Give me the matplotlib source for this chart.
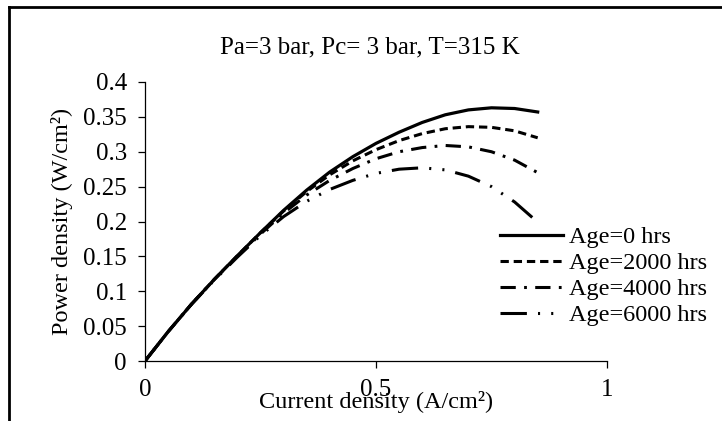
import numpy as np
import matplotlib
matplotlib.use("Agg")
import matplotlib.pyplot as plt
from matplotlib.lines import Line2D

plt.rcParams['font.family'] = ['Liberation Serif', 'DejaVu Serif']
plt.rcParams['lines.scale_dashes'] = False

# current density (A/cm2)
current = [0, 0.05, 0.1, 0.15, 0.2, 0.25, 0.3, 0.35, 0.4, 0.45,
           0.5, 0.55, 0.6, 0.65, 0.7, 0.75, 0.8, 0.85]

# power density (W/cm2) per ageing time
age_0 = [0, 0.042, 0.081, 0.117, 0.151, 0.184, 0.216, 0.245, 0.271, 0.293,
         0.312, 0.328, 0.342, 0.353, 0.360, 0.363, 0.362, 0.357]
age_2000 = [0, 0.042, 0.081, 0.117, 0.151, 0.184, 0.215, 0.243, 0.267, 0.287,
            0.303, 0.316, 0.326, 0.333, 0.336, 0.335, 0.330, 0.320]
age_4000 = [0, 0.042, 0.081, 0.117, 0.150, 0.182, 0.212, 0.238, 0.259, 0.276,
            0.290, 0.300, 0.306, 0.309, 0.307, 0.300, 0.288, 0.270]
age_6000 = [0, 0.042, 0.081, 0.116, 0.149, 0.180, 0.207, 0.229, 0.246, 0.259,
            0.269, 0.275, 0.277, 0.274, 0.265, 0.250, 0.228, 0.199]

labels = ['Age=0 hrs', 'Age=2000 hrs', 'Age=4000 hrs', 'Age=6000 hrs']

fig = plt.figure(figsize=(7.22, 4.21), dpi=100)
ax = fig.add_axes([145/722, 1-361/421, 462/722, 279/421])

ax.plot(current, age_0, color='black', lw=2.3, label=labels[0])
ax.plot(current, age_2000, color='black', lw=2.2, dashes=(6, 3.5), label=labels[1])
ax.plot(current, age_4000, color='black', lw=2.2, dashes=(11, 6, 2, 6), label=labels[2])
ax.plot(current, age_6000, color='black', lw=2.2, dashes=(19, 8, 1.5, 8, 1.5, 8), label=labels[3])

ax.set_xlim(0, 1)
ax.set_ylim(0, 0.4)
ax.set_xticks([0, 0.5, 1])
ax.set_xticklabels(['0', '0.5', '1'])
ax.set_yticks(np.arange(0, 0.41, 0.05))
ax.set_yticklabels(['0', '0.05', '0.1', '0.15', '0.2', '0.25', '0.3', '0.35', '0.4'])
for s in ['top', 'right']:
    ax.spines[s].set_visible(False)
for s in ['left', 'bottom']:
    ax.spines[s].set_linewidth(0.9)
ax.tick_params(direction='out', length=5, width=0.9, labelsize=18, pad=8)

ax.set_xlabel('Current density (A/cm²)', fontsize=17.5, labelpad=-7)
ax.set_ylabel('Power density (W/cm²)', fontsize=17.5)
ax.yaxis.set_label_coords(-0.155, 0.5)

fig.text(370/722, 1-47/421, 'Pa=3 bar, Pc= 3 bar, T=315 K', fontsize=18,
         ha='center', va='center')

ax.legend(loc='upper left', bbox_to_anchor=(500/722, 1-226/421),
          bbox_transform=fig.transFigure, frameon=False, fontsize=17.5,
          handlelength=2.6, handletextpad=0.25, labelspacing=0.17,
          borderpad=0, borderaxespad=0)

# outer frame (cropped box)
fig.add_artist(Line2D([8.7/722, 8.7/722], [0, 1-7/421], color='black', lw=2,
                      transform=fig.transFigure))
fig.add_artist(Line2D([8.7/722, 1], [1-7/421, 1-7/421], color='black', lw=2,
                      transform=fig.transFigure))

fig.savefig('out.png', dpi=100)
